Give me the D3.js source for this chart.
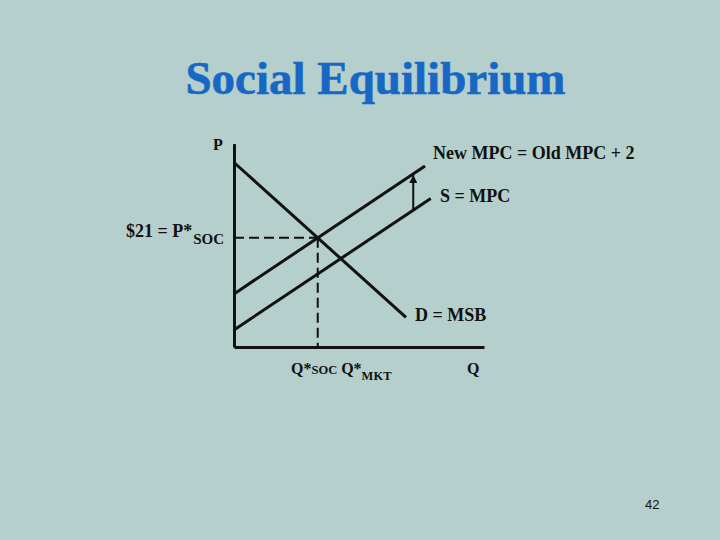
<!DOCTYPE html>
<html>
<head>
<meta charset="utf-8">
<script src="https://cdn.jsdelivr.net/npm/d3@7"></script>
<style>
  html, body { margin: 0; padding: 0; background: #b4cfcc; }
  svg { display: block; }
  text { font-family: "Liberation Serif", "Times New Roman", serif; font-weight: bold; fill: #111; }
</style>
</head>
<body>
<svg id="chart" width="720" height="540"></svg>
<script>
// ---- Data (Q, P) ----
const demand = [[0, 25.25], [6.88, 16.65]];   // D = MSB
const oldMPC = [[0, 15.95], [7.87, 23.25]];   // S = MPC
const newMPC = [[0, 17.95], [7.64, 25.05]];   // New MPC = Old MPC + 2
const arrowQ = [7.17];
const qDomain = [0, 10];
const pDomain = [15, 26.3];
const labels = {
  title: "Social Equilibrium",
  newMPC: "New MPC = Old MPC + 2",
  oldMPC: "S = MPC",
  demand: "D = MSB",
  pAxis: "P",
  qAxis: "Q",
  pSoc: "$21 = P*",
  page: "42"
};

const svg = d3.select("#chart");
svg.append("rect").attr("width", 720).attr("height", 540).attr("fill", "#b4cfcc");

const x = d3.scaleLinear().domain(qDomain).range([234, 484]);
const y = d3.scaleLinear().domain(pDomain).range([347, 143.6]);

// Title
svg.append("text")
  .attr("x", 375.5).attr("y", 94)
  .attr("text-anchor", "middle")
  .style("font-size", "47px")
  .style("fill", "#1767c4")
  .style("stroke", "#1767c4").style("stroke-width", 0.6)
  .text(labels.title);

// Axes (no ticks)
const xAxis = svg.append("g").attr("transform", `translate(0,${y(pDomain[0])})`)
  .call(d3.axisBottom(x).tickValues([]).tickSizeOuter(0));
const yAxis = svg.append("g").attr("transform", `translate(${x(qDomain[0])},0)`)
  .call(d3.axisLeft(y).tickValues([]).tickSizeOuter(0));
[xAxis, yAxis].forEach(g => g.select(".domain").attr("stroke", "#111").attr("stroke-width", 3));

// Lines
const line = d3.line().x(d => x(d[0])).y(d => y(d[1]));
[demand, oldMPC, newMPC].forEach(data => {
  svg.append("path").datum(data).attr("d", line)
    .attr("fill", "none").attr("stroke", "#111").attr("stroke-width", 3);
});

// Intersection of demand and new MPC (social equilibrium)
function lineAt(seg, q) {
  const [a, b] = seg;
  return a[1] + (b[1] - a[1]) * (q - a[0]) / (b[0] - a[0]);
}
const sD = (demand[1][1] - demand[0][1]) / (demand[1][0] - demand[0][0]);
const sN = (newMPC[1][1] - newMPC[0][1]) / (newMPC[1][0] - newMPC[0][0]);
const qSoc = (newMPC[0][1] - demand[0][1]) / (sD - sN);
const pSoc = lineAt(demand, qSoc);

// Dashed guides
svg.append("line")
  .attr("x1", x(0)).attr("x2", x(qSoc)).attr("y1", y(pSoc)).attr("y2", y(pSoc))
  .attr("stroke", "#111").attr("stroke-width", 2).attr("stroke-dasharray", "10,5");
svg.append("line")
  .attr("x1", x(qSoc)).attr("x2", x(qSoc)).attr("y1", y(pSoc)).attr("y2", y(pDomain[0]))
  .attr("stroke", "#111").attr("stroke-width", 2).attr("stroke-dasharray", "10,5");

// Arrow from old MPC up to new MPC
svg.append("defs").append("marker")
  .attr("id", "arrow").attr("viewBox", "0 0 10 10")
  .attr("refX", 10).attr("refY", 5)
  .attr("markerWidth", 4.5).attr("markerHeight", 4)
  .attr("markerUnits", "strokeWidth")
  .attr("orient", "auto")
  .append("path").attr("d", "M0,0 L10,5 L0,10 z").attr("fill", "#111");
arrowQ.forEach(q => {
  svg.append("line")
    .attr("x1", x(q)).attr("x2", x(q))
    .attr("y1", y(lineAt(oldMPC, q))).attr("y2", y(lineAt(newMPC, q)) + 1)
    .attr("stroke", "#111").attr("stroke-width", 2)
    .attr("marker-end", "url(#arrow)");
});

// Labels
svg.append("text").attr("x", 433).attr("y", 159).style("font-size", "18px").text(labels.newMPC);
svg.append("text").attr("x", 440).attr("y", 202).style("font-size", "18px").text(labels.oldMPC);
svg.append("text").attr("x", 415).attr("y", 321).style("font-size", "18px").text(labels.demand);
svg.append("text").attr("x", 213).attr("y", 150).style("font-size", "16px").text(labels.pAxis);
svg.append("text").attr("x", 467).attr("y", 374).style("font-size", "16px").text(labels.qAxis);

const pt = svg.append("text").attr("x", 126).attr("y", 237).style("font-size", "18px");
pt.append("tspan").text(labels.pSoc);
pt.append("tspan").attr("dy", 7).attr("dx", 1).style("font-size", "15px").text("SOC");

const qt = svg.append("text").attr("x", 291).attr("y", 374).style("font-size", "16px");
qt.append("tspan").text("Q*");
qt.append("tspan").style("font-size", "12.5px").text("SOC");
qt.append("tspan").text(" Q*");
qt.append("tspan").attr("dy", 6).style("font-size", "12.5px").text("MKT");

// Page number
svg.append("text").attr("x", 645).attr("y", 509)
  .style("font-family", "'Liberation Sans', Arial, sans-serif")
  .style("font-weight", "normal").style("font-size", "13px")
  .text(labels.page);
</script>
</body>
</html>
